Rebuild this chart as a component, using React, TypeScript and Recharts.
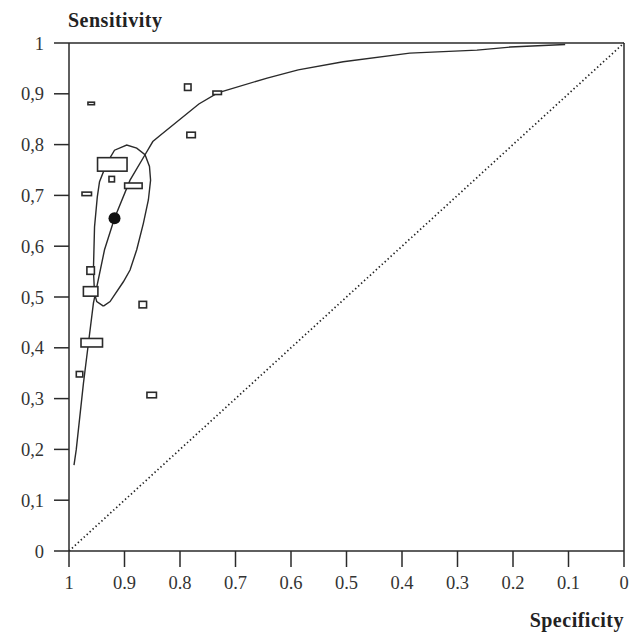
import React from 'react';
import { ComposedChart, Scatter, XAxis, YAxis, ReferenceLine } from 'recharts';

// Individual studies (specificity, sensitivity) and box sizes (study weight)
const studySpecificity = [0.960, 0.786, 0.733, 0.780, 0.922, 0.923, 0.884, 0.968, 0.961, 0.961, 0.867, 0.959, 0.981, 0.851];
const studySensitivity = [0.881, 0.913, 0.902, 0.819, 0.761, 0.732, 0.719, 0.703, 0.552, 0.511, 0.485, 0.410, 0.348, 0.307];
const studyBoxWidth = [8, 8, 10, 10, 31, 7, 19, 11, 9, 16, 9, 23, 8, 11];
const studyBoxHeight = [4, 8, 5, 7, 15, 7, 7, 5, 9, 11, 8, 10, 7, 7];

// Summary estimate
const summarySpecificity = [0.918];
const summarySensitivity = [0.655];

// SROC curve
const srocSpecificity = [0.991, 0.987, 0.974, 0.965, 0.956, 0.936, 0.918, 0.890, 0.863, 0.849, 0.836, 0.766, 0.732, 0.643, 0.587, 0.506, 0.386, 0.265, 0.205, 0.106];
const srocSensitivity = [0.169, 0.199, 0.330, 0.409, 0.488, 0.593, 0.655, 0.730, 0.780, 0.806, 0.818, 0.880, 0.902, 0.931, 0.947, 0.963, 0.980, 0.986, 0.992, 0.997];

// 95% confidence region
const regionSpecificity = [0.938, 0.950, 0.954, 0.956, 0.954, 0.949, 0.945, 0.932, 0.918, 0.896, 0.878, 0.863, 0.855, 0.853, 0.857, 0.866, 0.878, 0.890, 0.902, 0.926, 0.938];
const regionSensitivity = [0.482, 0.491, 0.507, 0.553, 0.638, 0.697, 0.727, 0.763, 0.789, 0.799, 0.793, 0.780, 0.757, 0.730, 0.691, 0.645, 0.593, 0.553, 0.530, 0.491, 0.482];

const xTicks = [1, 0.9, 0.8, 0.7, 0.6, 0.5, 0.4, 0.3, 0.2, 0.1, 0];
const yTicks = [0, 0.1, 0.2, 0.3, 0.4, 0.5, 0.6, 0.7, 0.8, 0.9, 1];

const studies = studySpecificity.map((x, i) => ({ x, y: studySensitivity[i], w: studyBoxWidth[i], h: studyBoxHeight[i] }));
const summary = summarySpecificity.map((x, i) => ({ x, y: summarySensitivity[i] }));
const sroc = srocSpecificity.map((x, i) => ({ x, y: srocSensitivity[i] }));
const region = regionSpecificity.map((x, i) => ({ x, y: regionSensitivity[i] }));

const INK = '#2a2a2a';
const FONT = '"Liberation Serif", "Times New Roman", serif';

const BoxShape = (props: any) => {
  const { cx, cy, payload } = props;
  if (cx == null || cy == null) return <g />;
  const w = payload.w - 1.5;
  const h = payload.h - 1.5;
  return <rect x={cx - w / 2} y={cy - h / 2} width={w} height={h} fill="#fff" stroke={INK} strokeWidth={1.6} />;
};

const DotShape = (props: any) => {
  const { cx, cy } = props;
  if (cx == null || cy == null) return <g />;
  return <circle cx={cx} cy={cy} r={6} fill="#111" />;
};

const NoShape = () => <g />;

export default function App() {
  const tickStyle = { fontFamily: FONT, fontSize: 18.5, fill: '#333' };
  const lineStyle = { stroke: INK, strokeWidth: 1.5 };
  return (
    <div style={{ position: 'absolute', left: 0, top: 0, width: 643, height: 633, background: '#fff' }}>
      <ComposedChart width={643} height={633} margin={{ top: 43, right: 19, bottom: 42, left: 0 }}>
        <XAxis
          type="number"
          dataKey="x"
          domain={[0, 1]}
          reversed
          ticks={xTicks}
          interval={0}
          tickSize={16}
          tickMargin={9}
          height={40}
          tick={tickStyle}
          tickLine={lineStyle}
          axisLine={lineStyle}
          tickFormatter={(v: number) => String(v)}
        />
        <YAxis
          type="number"
          dataKey="y"
          domain={[0, 1]}
          ticks={yTicks}
          interval={0}
          tickSize={15}
          tickMargin={10}
          width={69}
          tick={tickStyle}
          tickLine={lineStyle}
          axisLine={lineStyle}
          tickFormatter={(v: number) => String(v).replace('.', ',')}
        />
        <ReferenceLine y={1} stroke={INK} strokeWidth={1.5} />
        <ReferenceLine x={0} stroke={INK} strokeWidth={1.5} />
        <ReferenceLine
          segment={[{ x: 1, y: 0 }, { x: 0, y: 1 }]}
          stroke="#222"
          strokeWidth={1.7}
          strokeDasharray="1.4 2.6"
        />
        <Scatter data={region} line={{ stroke: INK, strokeWidth: 1.4 }} shape={NoShape} isAnimationActive={false} />
        <Scatter data={sroc} line={{ stroke: INK, strokeWidth: 1.4 }} shape={NoShape} isAnimationActive={false} />
        <Scatter data={studies} shape={BoxShape} isAnimationActive={false} />
        <Scatter data={summary} shape={DotShape} isAnimationActive={false} />
      </ComposedChart>
      <div style={{ position: 'absolute', left: 68, top: 10, fontFamily: FONT, fontWeight: 'bold', fontSize: 20, lineHeight: '20px', letterSpacing: 0.5, color: '#222', whiteSpace: 'nowrap' }}>
        Sensitivity
      </div>
      <div style={{ position: 'absolute', right: 19, top: 610, fontFamily: FONT, fontWeight: 'bold', fontSize: 20, lineHeight: '20px', letterSpacing: 0.5, color: '#222', whiteSpace: 'nowrap' }}>
        Specificity
      </div>
    </div>
  );
}
